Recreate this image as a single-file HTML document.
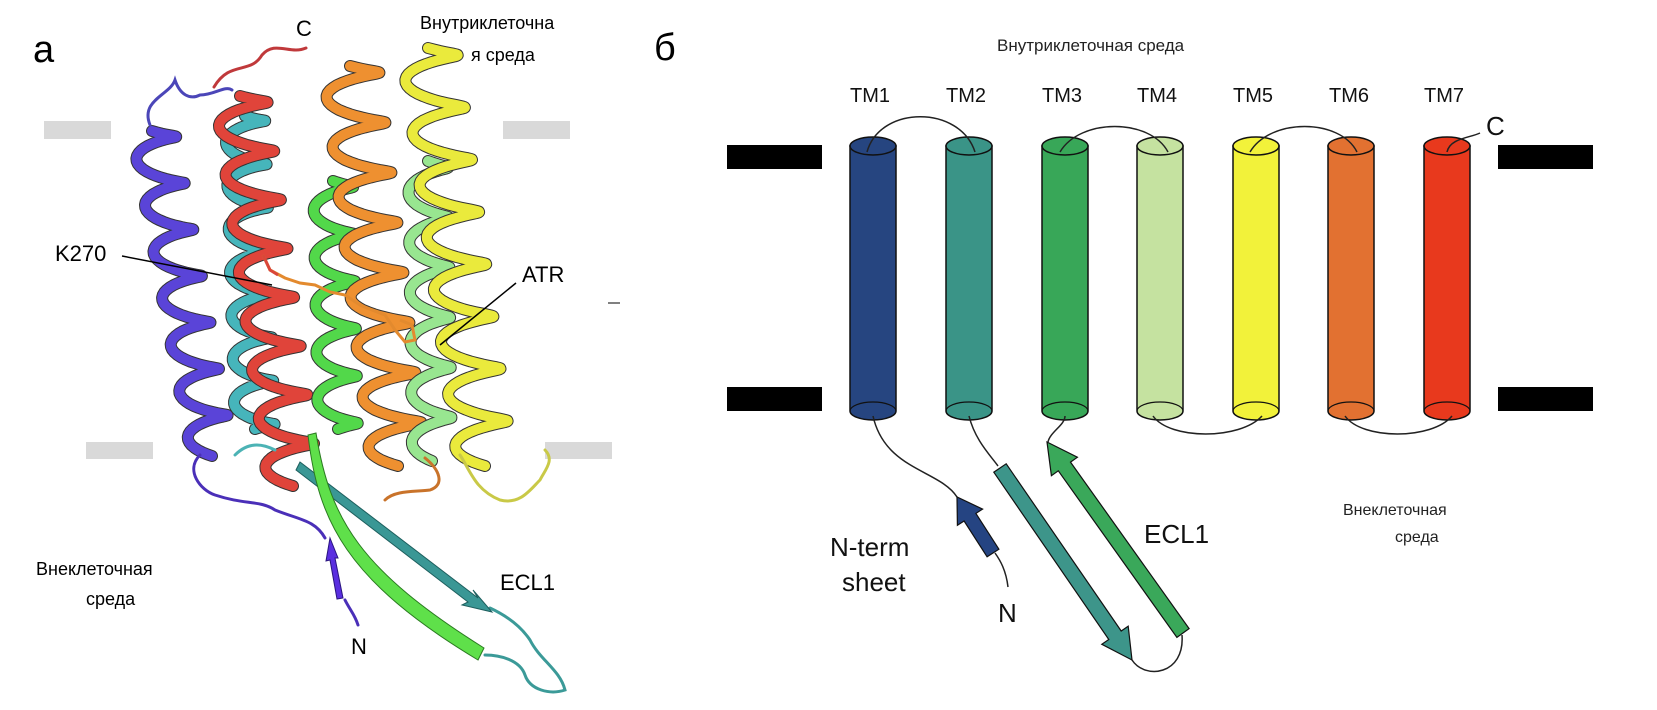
<!DOCTYPE html>
<html><head><meta charset="utf-8">
<style>
html,body{margin:0;padding:0;background:#fff;}
svg{display:block;}
text{font-family:"Liberation Sans","DejaVu Sans",sans-serif;}
</style></head>
<body>
<svg id="s" width="1657" height="710" viewBox="0 0 1657 710" xmlns="http://www.w3.org/2000/svg">
<rect width="1657" height="710" fill="#fff"/>
<rect x="44" y="121" width="67" height="18" fill="#d9d9d9"/>
<rect x="503" y="121" width="67" height="18" fill="#d9d9d9"/>
<rect x="86" y="442" width="67" height="17" fill="#d9d9d9"/>
<rect x="545" y="442" width="67" height="17" fill="#d9d9d9"/>
<g id="helices" fill="none" stroke-linecap="round" stroke-linejoin="round"></g>
<g fill="none" stroke-width="3" stroke-linecap="round">
<path d="M214 87 C230 60 250 75 262 55 C275 40 290 55 306 48" stroke="#c0393b"/>
<path d="M150 125 C140 100 170 95 175 80 C180 95 190 100 200 95 C215 95 225 85 232 90" stroke="#4b46b8"/>
<path d="M200 455 C185 470 200 490 215 495 C245 505 260 500 275 510 C300 520 315 520 325 538" stroke="#4a2fb8"/>
<path d="M345 600 C350 610 355 615 358 625" stroke="#4a2fb8"/>
<path d="M425 458 C440 470 445 485 430 490 C415 492 395 490 385 500" stroke="#c9732a"/>
<path d="M460 455 C470 470 475 490 500 500 C520 505 530 490 540 480 C545 470 555 460 545 450" stroke="#c9c947"/>
<path d="M490 608 C505 615 520 625 530 640 C540 660 560 670 565 690 C550 695 530 690 525 675 C520 660 500 655 485 655" stroke="#3b9a98"/>
<path d="M235 455 C250 440 265 445 275 450" stroke="#4cb3b5"/>
</g>
<path d="M300 462 L478 598 L473 590 L492 612 L462 605 L468 602 L296 470 Z" fill="#3a9795" stroke="#1d5e5d" stroke-width="1"/>
<path d="M316 433 C330 520 360 570 484 648 L478 660 C345 580 318 520 308 435 Z" fill="#5fe04a" stroke="#2a7a20" stroke-width="1"/>
<path d="M330 538 L338 558 L335 558 L343 598 L337 599 L330 560 L326 561 Z" fill="#5a2ee0" stroke="#2a1580" stroke-width="1"/>
<polyline points="263,255 270,270 285,278 300,283 315,285 330,292 345,295 360,305 372,310 385,315 395,330 405,342 415,340 412,325 400,320" fill="none" stroke="#e38a2e" stroke-width="3"/>
<polyline points="263,255 270,270 278,275" fill="none" stroke="#d9473a" stroke-width="3"/>
<text x="33" y="62" font-size="38">а</text>
<text x="296" y="36" font-size="22">C</text>
<text x="420" y="29" font-size="18">Внутриклеточна</text>
<text x="471" y="61" font-size="18">я среда</text>
<text x="55" y="261" font-size="22">K270</text>
<line x1="122" y1="256" x2="272" y2="285" stroke="#000" stroke-width="1.5"/>
<text x="522" y="282" font-size="22">ATR</text>
<line x1="516" y1="283" x2="440" y2="345" stroke="#000" stroke-width="1.5"/>
<text x="36" y="575" font-size="18">Внеклеточная</text>
<text x="86" y="605" font-size="18">среда</text>
<text x="351" y="654" font-size="22">N</text>
<text x="500" y="590" font-size="22">ECL1</text>
<line x1="608" y1="303" x2="620" y2="303" stroke="#000" stroke-width="1"/>

<text x="654" y="60" font-size="38">б</text>
<text x="997" y="51" font-size="17" fill="#222">Внутриклеточная среда</text>
<rect x="727" y="145" width="95" height="24" fill="#000"/>
<rect x="727" y="387" width="95" height="24" fill="#000"/>
<rect x="1498" y="145" width="95" height="24" fill="#000"/>
<rect x="1498" y="387" width="95" height="24" fill="#000"/>
<g id="cyl"></g>
<g fill="none" stroke="#222" stroke-width="1.5">
<path d="M867 152 C880 105 960 105 975 152"/>
<path d="M1060 152 C1080 118 1150 118 1168 152"/>
<path d="M1250 152 C1270 118 1340 118 1357 152"/>
<path d="M1447 152 C1450 138 1470 138 1480 133"/>
<path d="M1153 416 C1170 440 1240 440 1262 416"/>
<path d="M1345 416 C1362 440 1432 440 1452 416"/>
<path d="M873 416 C885 470 940 470 957 497"/>
<path d="M969 416 C975 440 990 455 998 466"/>
<path d="M1065 416 C1065 425 1050 432 1048 442"/>
<path d="M1008 587 C1006 570 1000 560 995 553"/>
<path d="M1132 660 C1145 680 1185 675 1182 635"/>
</g>
<g id="arrows"></g>
<g font-size="26" fill="#111">
<text x="830" y="556">N-term</text>
<text x="842" y="591">sheet</text>
<text x="998" y="622">N</text>
<text x="1144" y="543">ECL1</text>
<text x="1486" y="135">C</text>
</g>
<g font-size="20" fill="#111">
<text x="850" y="102">TM1</text><text x="946" y="102">TM2</text><text x="1042" y="102">TM3</text>
<text x="1137" y="102">TM4</text><text x="1233" y="102">TM5</text><text x="1329" y="102">TM6</text><text x="1424" y="102">TM7</text>
</g>
<text x="1343" y="515" font-size="16" fill="#222">Внеклеточная</text>
<text x="1395" y="542" font-size="16" fill="#222">среда</text>
</svg>
<script>
var NS="http://www.w3.org/2000/svg";
var cols=["#264580","#3a9487","#38a758","#c5e2a0","#f2f23a","#e27131","#e8391d"];
var cx=[873,969,1065,1160,1256,1351,1447];
var cg=document.getElementById("cyl");
for(var i=0;i<7;i++){
 var x=cx[i],w=23,t=146,b=411,ry=9;
 var p=document.createElementNS(NS,"path");
 p.setAttribute("d","M"+(x-w)+" "+t+" L"+(x-w)+" "+b+" A"+w+" "+ry+" 0 0 0 "+(x+w)+" "+b+" L"+(x+w)+" "+t+" Z");
 p.setAttribute("fill",cols[i]);p.setAttribute("stroke","#111");p.setAttribute("stroke-width","1.5");cg.appendChild(p);
 var e=document.createElementNS(NS,"ellipse");
 e.setAttribute("cx",x);e.setAttribute("cy",t);e.setAttribute("rx",w);e.setAttribute("ry",ry);
 e.setAttribute("fill",cols[i]);e.setAttribute("stroke","#111");e.setAttribute("stroke-width","1.5");cg.appendChild(e);
 var e2=document.createElementNS(NS,"path");
 e2.setAttribute("d","M"+(x-w)+" "+b+" A"+w+" "+ry+" 0 0 1 "+(x+w)+" "+b);
 e2.setAttribute("fill","none");e2.setAttribute("stroke","#111");e2.setAttribute("stroke-width","1.2");cg.appendChild(e2);
}
function arrow(tx,ty,px,py,w,hw,hl,col){
 var dx=px-tx,dy=py-ty,L=Math.sqrt(dx*dx+dy*dy),ux=dx/L,uy=dy/L,nx=-uy,ny=ux;
 var bx=px-ux*hl,by=py-uy*hl;
 var pts=[[tx+nx*w/2,ty+ny*w/2],[bx+nx*w/2,by+ny*w/2],[bx+nx*hw/2,by+ny*hw/2],[px,py],[bx-nx*hw/2,by-ny*hw/2],[bx-nx*w/2,by-ny*w/2],[tx-nx*w/2,ty-ny*w/2]];
 var p=document.createElementNS(NS,"polygon");
 p.setAttribute("points",pts.map(function(q){return q[0].toFixed(1)+","+q[1].toFixed(1)}).join(" "));
 p.setAttribute("fill",col);p.setAttribute("stroke","#111");p.setAttribute("stroke-width","1.2");
 document.getElementById("arrows").appendChild(p);
}
arrow(993,553,957,497,14,30,24,"#254482");
arrow(1000,468,1132,660,15,32,30,"#3d958a");
arrow(1183,633,1047,442,15,32,30,"#3aa85a");
var H=[
 [152,125,212,450,22,7,"#5a44d8"],
 [245,110,255,435,20,7.5,"#46b5bb"],
 [240,90,293,480,26,8,"#e0443a"],
 [333,175,338,435,20,5.5,"#52d84a"],
 [350,60,398,460,28,8,"#ee9030"],
 [428,155,432,455,20,6,"#98e690"],
 [428,42,485,460,28,8,"#eaea3c"]
];
var hg=document.getElementById("helices");
H.forEach(function(h){
 var d="",n=Math.round(h[5]*30);
 for(var k=0;k<=n;k++){
  var f=k/n,ph=f*h[5]*2*Math.PI,y=h[1]+(h[3]-h[1])*f,x=h[0]+(h[2]-h[0])*f+h[4]*Math.sin(ph);
  y+=6*Math.cos(ph);
  d+=(k?"L":"M")+x.toFixed(1)+" "+y.toFixed(1);
 }
 var o=document.createElementNS(NS,"path");o.setAttribute("d",d);o.setAttribute("stroke","#333");o.setAttribute("stroke-width","12");hg.appendChild(o);
 var p=document.createElementNS(NS,"path");p.setAttribute("d",d);p.setAttribute("stroke",h[6]);p.setAttribute("stroke-width","10");hg.appendChild(p);
});
</script>
</body></html>
